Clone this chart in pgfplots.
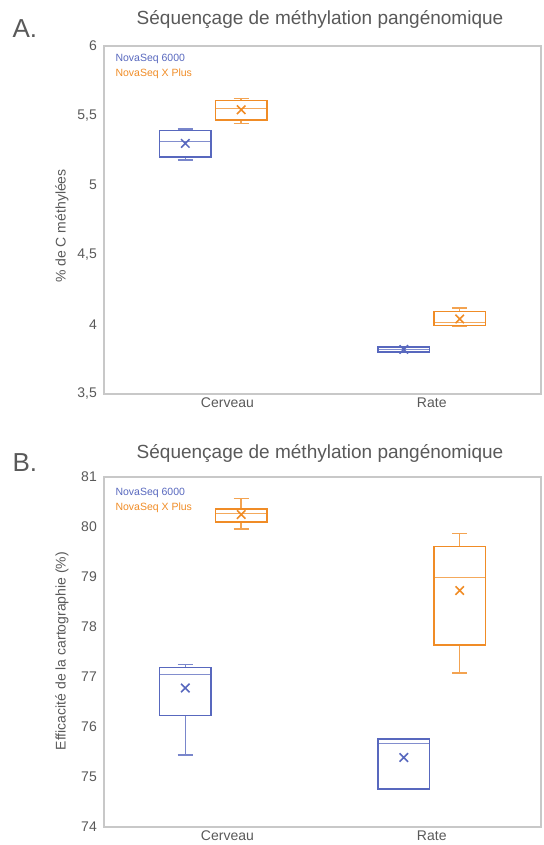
\documentclass[border=0pt]{standalone}
\usepackage{fontspec}
\setmainfont{Liberation Sans}
\usepackage{pgfplots}
\pgfplotsset{compat=1.18}
\usepgfplotslibrary{statistics}
\definecolor{nsblue}{RGB}{88,104,190}
\definecolor{nsorange}{RGB}{240,140,38}
\definecolor{txtgray}{RGB}{89,89,89}
\definecolor{axgray}{RGB}{200,200,200}
\pgfplotsset{
  myaxis/.style={
    scale only axis, width=437bp,
    xmin=0.5, xmax=2.5,
    xtick={1.065,2}, xticklabels={Cerveau,Rate},
    major tick length=0pt,
    axis line style={axgray, line width=1.4bp},
    tick label style={font=\fontsize{14bp}{16bp}\selectfont, text=txtgray},
    yticklabel style={anchor=east, inner sep=0pt, xshift=-7bp},
    xticklabel style={anchor=north, inner sep=0pt, yshift=-4bp},
    /pgf/number format/assume math mode=true,
    /pgf/number format/use comma,
    boxplot/draw direction=y,
    boxplot/every average/.style={/tikz/mark=x, /tikz/mark size=6bp, /tikz/line width=0.7bp,
      /tikz/every mark/.append style={line width=0.7bp}},
    boxplot/every whisker/.style={opacity=0.8},
    boxplot/every median/.style={line width=1bp, opacity=0.75},
    clip=false,
  },
  bx/.style={line width=1.5bp, solid},
}
\begin{document}
\begin{tikzpicture}
\useasboundingbox (0,0) rectangle (544bp,-845bp);
% ---------- Panel A ----------
\node[font=\fontsize{26bp}{30bp}\selectfont, text=txtgray, anchor=west] at (9bp,-29bp) {A.};
\node[font=\fontsize{19bp}{22bp}\selectfont, text=txtgray] at (320bp,-20bp) {Séquençage de méthylation pangénomique};
\node[font=\fontsize{14bp}{16bp}\selectfont, text=txtgray, rotate=90] at (62bp,-226bp) {\% de C méthylées};
\begin{axis}[myaxis, at={(104bp,-394bp)}, anchor=south west, height=348bp,
  ymin=3.5, ymax=6, ytick={3.5,4,4.5,5,5.5,6}]
\addplot[nsblue, bx, boxplot prepared={draw position=0.872, box extend=0.237, whisker extend=0.07,
  lower whisker=5.180, lower quartile=5.204, median=5.313, upper quartile=5.392, upper whisker=5.404, average=5.300}] coordinates {};
\addplot[nsorange, bx, boxplot prepared={draw position=1.128, box extend=0.237, whisker extend=0.07,
  lower whisker=5.443, lower quartile=5.470, median=5.551, upper quartile=5.607, upper whisker=5.622, average=5.542}] coordinates {};
\addplot[nsblue, bx, boxplot prepared={draw position=1.872, box extend=0.237, whisker extend=0.07,
  lower whisker=3.798, lower quartile=3.800, median=3.822, upper quartile=3.837, upper whisker=3.839, average=3.820}] coordinates {};
\addplot[nsorange, bx, boxplot prepared={draw position=2.128, box extend=0.237, whisker extend=0.07,
  lower whisker=3.990, lower quartile=3.993, median=4.015, upper quartile=4.092, upper whisker=4.117, average=4.039}] coordinates {};
\end{axis}
\node[font=\fontsize{10.5bp}{12bp}\selectfont, text=nsblue, anchor=west] at (112bp,-59bp) {NovaSeq 6000};
\node[font=\fontsize{10.5bp}{12bp}\selectfont, text=nsorange, anchor=west] at (112bp,-74bp) {NovaSeq X Plus};
% ---------- Panel B ----------
\node[font=\fontsize{26bp}{30bp}\selectfont, text=txtgray, anchor=west] at (9bp,-463bp) {B.};
\node[font=\fontsize{19bp}{22bp}\selectfont, text=txtgray] at (320bp,-454bp) {Séquençage de méthylation pangénomique};
\node[font=\fontsize{14bp}{16bp}\selectfont, text=txtgray, rotate=90] at (62bp,-651bp) {Efficacité de la cartographie (\%)};
\begin{axis}[myaxis, at={(104bp,-827bp)}, anchor=south west, height=350bp,
  ymin=74, ymax=81, ytick={74,75,...,81}]
\addplot[nsblue, bx, boxplot prepared={draw position=0.872, box extend=0.237, whisker extend=0.07,
  lower whisker=75.44, lower quartile=76.23, median=77.055, upper quartile=77.195, upper whisker=77.25, average=76.78}] coordinates {};
\addplot[nsorange, bx, boxplot prepared={draw position=1.128, box extend=0.237, whisker extend=0.07,
  lower whisker=79.96, lower quartile=80.10, median=80.28, upper quartile=80.36, upper whisker=80.57, average=80.25}] coordinates {};
\addplot[nsblue, bx, boxplot prepared={draw position=1.872, box extend=0.237, whisker extend=0.07,
  lower whisker=74.76, lower quartile=74.76, median=75.68, upper quartile=75.76, upper whisker=75.76, average=75.39}] coordinates {};
\addplot[nsorange, bx, boxplot prepared={draw position=2.128, box extend=0.237, whisker extend=0.07,
  lower whisker=77.08, lower quartile=77.64, median=79.00, upper quartile=79.61, upper whisker=79.87, average=78.73}] coordinates {};
\end{axis}
\node[font=\fontsize{10.5bp}{12bp}\selectfont, text=nsblue, anchor=west] at (112bp,-493bp) {NovaSeq 6000};
\node[font=\fontsize{10.5bp}{12bp}\selectfont, text=nsorange, anchor=west] at (112bp,-508bp) {NovaSeq X Plus};
\end{tikzpicture}
\end{document}
